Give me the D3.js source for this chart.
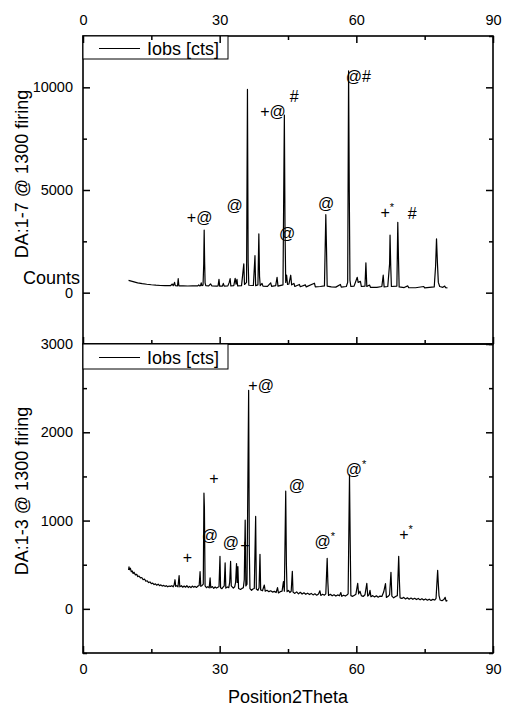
<!DOCTYPE html>
<html>
<head>
<meta charset="utf-8">
<script src="https://cdn.jsdelivr.net/npm/d3@7"></script>
<style>
  body { margin: 0; background: #fff; }
  text { font-family: "Liberation Sans", Arial, sans-serif; fill: #000; }
</style>
</head>
<body>
<div id="chart"></div>
<script>
// x axis (2theta)
const xTicks = [0, 30, 60, 90]
const xMinor = [15, 45, 75]

// upper pattern: DA:1-7 @ 1300 firing  [2theta, counts]
const topTicks = [0, 5000, 10000]
const topMinor = [-2500, 2500, 7500, 12500]
const topPattern = [
  [10,600],[11,540],[12,480],[13,440],[14,410],[15,385],[16,365],[17,350],[18,345],[19.2,340],[19.6,420],[19.8,340],
  [20.1,500],[20.25,340],[20.75,335],[20.9,680],[21.05,335],[22,330],[23,325],[24,330],[25.2,330],[25.4,380],[25.6,330],
  [25.8,340],[25.95,480],[26.1,340],[26.35,360],[26.5,1400],[26.6,3050],[26.7,1500],[26.8,480],[26.95,340],[27.6,330],
  [28.0,430],[28.3,325],[29.4,320],[29.65,330],[29.85,650],[30.0,320],[30.6,320],[30.8,450],[31.0,320],[31.8,330],
  [32.1,500],[32.3,680],[32.45,330],[33.1,340],[33.4,700],[33.6,420],[33.8,650],[33.95,330],[34.8,340],[35.3,1400],
  [35.45,400],[35.9,500],[36.1,9900],[36.25,1500],[36.4,360],[37.4,350],[37.75,1800],[37.9,340],[38.4,380],[38.6,2860],
  [38.75,800],[38.9,340],[39.3,450],[39.5,320],[40.5,310],[41.2,480],[41.4,310],[42.3,340],[42.6,750],[42.8,320],
  [43.9,380],[44.2,8650],[44.35,3000],[44.5,500],[44.7,850],[44.9,400],[45.2,420],[45.6,850],[45.8,380],[46.3,450],
  [46.5,300],[47.5,400],[47.7,290],[48.8,380],[49.0,280],[50.8,460],[51.0,280],[52.1,300],[53.0,330],[53.3,3800],
  [53.45,2200],[53.6,320],[54.5,280],[55.5,270],[56.5,400],[56.7,270],[57.8,300],[58.1,500],[58.3,10800],[58.45,5000],
  [58.6,600],[58.8,300],[59.5,320],[60.2,750],[60.4,500],[60.9,550],[61.1,300],[61.9,320],[62.1,1450],[62.3,300],
  [62.9,370],[63.1,260],[64.5,260],[65.6,300],[65.9,850],[66.1,280],[66.9,300],[67.3,1400],[67.4,2800],[67.55,1300],
  [67.7,300],[68.9,320],[69.1,3430],[69.25,1700],[69.4,280],[70.5,250],[71.3,330],[71.5,240],[73,240],[74.8,300],
  [75,235],[77.1,280],[77.4,1300],[77.6,2620],[77.8,1450],[78.0,500],[78.3,300],[79,260],[79.4,320],[79.6,240],[80,230]
]
// peak marks: [2theta, counts, text, superscript]
const topMarks = [
  [22.8, 3400, "+@", ""], [31.5, 4000, "@", ""], [38.9, 8550, "+@", ""], [45.4, 9300, "#", ""],
  [43.0, 2600, "@", ""], [51.6, 4070, "@", ""], [57.7, 10260, "@#", ""], [65.3, 3640, "+", "*"],
  [71.3, 3590, "#", ""]
]

// lower pattern: DA:1-3 @ 1300 firing
const botTicks = [0, 1000, 2000, 3000]
const botMinor = [-500, 500, 1500, 2500]
const botPattern = [
  [10,440],[10.1,475],[10.2,445],[10.4,460],[10.6,420],[10.8,430],[11,400],[11.2,415],[11.5,385],[11.8,392],[12,365],
  [12.3,372],[12.6,350],[12.9,355],[13.2,330],[13.5,338],[13.8,312],[14.1,318],[14.4,298],[14.7,305],[15,285],[15.3,292],
  [15.6,275],[15.9,283],[16.2,268],[16.5,280],[16.8,262],[17.1,272],[17.4,258],[17.7,266],[18,255],[18.3,262],[18.6,250],
  [18.9,258],[19.2,255],[19.5,262],[19.8,250],[20.0,270],[20.2,330],[20.35,255],[20.6,262],[20.85,250],[21.1,376],
  [21.25,250],[21.6,262],[21.9,245],[22.2,258],[22.5,245],[22.8,262],[23.1,242],[23.4,255],[23.7,240],[24.0,258],
  [24.3,245],[24.6,255],[24.9,242],[25.2,258],[25.5,265],[25.7,421],[25.85,255],[26.1,262],[26.4,280],[26.55,1311],
  [26.65,1150],[26.8,260],[27.1,240],[27.4,252],[27.7,238],[27.9,350],[28.05,240],[28.4,252],[28.7,232],[29.0,248],
  [29.3,235],[29.6,245],[29.85,250],[30.07,595],[30.2,240],[30.5,228],[30.75,245],[31.0,260],[31.2,520],[31.35,235],
  [31.7,248],[32.0,240],[32.2,300],[32.4,537],[32.55,260],[33.0,235],[33.3,250],[33.5,300],[33.7,514],[33.85,300],
  [34.0,480],[34.15,230],[34.6,220],[34.9,232],[35.2,240],[35.4,330],[35.6,1005],[35.75,260],[36.0,280],[36.36,2475],
  [36.5,700],[36.65,230],[37.0,210],[37.3,225],[37.6,230],[37.9,1047],[38.05,225],[38.4,210],[38.65,240],[38.85,618],
  [39.0,215],[39.4,205],[39.8,270],[40.0,200],[40.4,210],[40.8,195],[41.2,205],[41.6,190],[42.0,198],[42.4,185],
  [42.7,240],[42.9,180],[43.3,195],[43.7,200],[44.0,310],[44.2,200],[44.5,1333],[44.65,500],[44.8,195],[45.1,210],
  [45.4,185],[45.7,200],[45.95,426],[46.1,190],[46.5,175],[46.9,192],[47.3,170],[47.7,188],[48.1,168],[48.5,182],
  [48.9,165],[49.3,178],[49.7,162],[50.1,175],[50.5,158],[50.9,170],[51.3,155],[51.7,168],[52.0,205],[52.2,152],
  [52.6,165],[53.0,155],[53.3,170],[53.6,573],[53.75,300],[53.9,152],[54.3,165],[54.7,148],[55.1,160],[55.5,145],
  [55.9,158],[56.3,148],[56.6,185],[56.8,142],[57.2,155],[57.6,145],[58.0,160],[58.2,170],[58.5,1518],[58.65,780],
  [58.8,150],[59.2,142],[59.6,155],[59.9,165],[60.3,290],[60.5,170],[60.8,200],[61.1,150],[61.5,140],[61.9,160],
  [62.3,290],[62.5,145],[62.8,160],[63.0,210],[63.2,138],[63.6,150],[64.0,135],[64.4,148],[64.8,132],[65.2,145],
  [65.6,140],[66.0,190],[66.4,286],[66.6,130],[67.0,142],[67.3,160],[67.6,414],[67.8,145],[68.2,125],[68.6,140],
  [69.0,150],[69.3,595],[69.45,320],[69.6,125],[70.0,118],[70.4,130],[70.8,112],[71.2,125],[71.6,110],[72.0,122],
  [72.4,108],[72.8,120],[73.2,105],[73.6,118],[74.0,102],[74.4,115],[74.8,100],[75.2,112],[75.6,98],[76.0,110],
  [76.4,96],[76.8,108],[77.2,100],[77.5,120],[77.85,437],[78.0,280],[78.15,150],[78.4,100],[78.8,92],[79.2,105],
  [79.5,130],[79.7,88],[80,95]
]
const botMarks = [
  [21.9, 525, "+", ""], [27.7, 1410, "+", ""], [26.05, 770, "@", ""], [30.7, 685, "@", ""], [34.5, 650, "+", ""],
  [36.3, 2470, "+@", ""], [45.15, 1335, "@", ""], [50.8, 700, "@", "*"], [57.7, 1516, "@", "*"], [69.4, 780, "+", "*"]
]

const width = 505, height = 707
const left = 83, right = 493

const svg = d3.select("#chart").append("svg")
    .attr("width", width)
    .attr("height", height)

svg.append("rect").attr("width", width).attr("height", height).attr("fill", "#fff")

const x = d3.scaleLinear().domain([0, 90]).range([left, right])

const panels = [
  {top: 36, bottom: 344, domain: [-2500, 12500], ticks: topTicks, minor: topMinor, data: topPattern,
   marks: topMarks, title: "DA:1-7 @ 1300 firing", titleY: 174, legendH: 23},
  {top: 344, bottom: 653, domain: [-500, 3000], ticks: botTicks, minor: botMinor, data: botPattern,
   marks: botMarks, title: "DA:1-3 @ 1300 firing", titleY: 491, legendH: 25}
]

function styleAxis(g) {
  g.select(".domain").remove()
  g.selectAll("line").attr("stroke", "#000").attr("stroke-width", 1.5)
  g.selectAll("text").style("font-size", "14.5px").attr("fill", "#000")
}

panels.forEach((p, i) => {
  const y = d3.scaleLinear().domain(p.domain).range([p.bottom, p.top])

  // data line
  svg.append("path")
    .datum(p.data)
    .attr("fill", "none")
    .attr("stroke", "#000")
    .attr("stroke-width", 1.2)
    .attr("stroke-linejoin", "round")
    .attr("d", d3.line().x(d => x(d[0])).y(d => y(d[1])))

  // y axes, ticks pointing in
  svg.append("g").attr("transform", `translate(${left},0)`)
    .call(d3.axisLeft(y).tickValues(p.ticks).tickSize(-7).tickPadding(10).tickFormat(d3.format("d")))
    .call(styleAxis)
  svg.append("g").attr("transform", `translate(${left},0)`)
    .call(d3.axisLeft(y).tickValues(p.minor).tickSize(-4).tickFormat(""))
    .call(styleAxis)
  svg.append("g").attr("transform", `translate(${right},0)`)
    .call(d3.axisRight(y).tickValues(p.ticks).tickSize(-7).tickFormat(""))
    .call(styleAxis)
  svg.append("g").attr("transform", `translate(${right},0)`)
    .call(d3.axisRight(y).tickValues(p.minor).tickSize(-4).tickFormat(""))
    .call(styleAxis)

  // x ticks on the bottom edge of each panel (inward)
  svg.append("g").attr("transform", `translate(0,${p.bottom})`)
    .call(d3.axisBottom(x).tickValues(xTicks).tickSize(-7).tickPadding(11)
      .tickFormat(i == 1 ? d3.format("d") : ""))
    .call(styleAxis)
  svg.append("g").attr("transform", `translate(0,${p.bottom})`)
    .call(d3.axisBottom(x).tickValues(xMinor).tickSize(-4).tickFormat(""))
    .call(styleAxis)

  // frame
  svg.append("rect")
    .attr("x", left).attr("y", p.top)
    .attr("width", right - left).attr("height", p.bottom - p.top)
    .attr("fill", "none").attr("stroke", "#000").attr("stroke-width", 1.6)

  // legend
  const lg = svg.append("g")
  lg.append("rect")
    .attr("x", left).attr("y", p.top)
    .attr("width", 145).attr("height", p.legendH)
    .attr("fill", "#fff").attr("stroke", "#000").attr("stroke-width", 1)
  lg.append("line")
    .attr("x1", 99).attr("x2", 140)
    .attr("y1", p.top + p.legendH / 2 + 1).attr("y2", p.top + p.legendH / 2 + 1)
    .attr("stroke", "#000").attr("stroke-width", 1)
  lg.append("text")
    .attr("x", 147).attr("y", p.top + p.legendH / 2 + 7)
    .style("font-size", "18px")
    .text("Iobs [cts]")

  // peak marks
  p.marks.forEach(m => {
    const t = svg.append("text")
      .attr("x", x(m[0])).attr("y", y(m[1]))
      .style("font-size", "16px")
      .text(m[2])
    if (m[3]) {
      t.append("tspan").attr("dy", -7).style("font-size", "11px").text(m[3])
    }
  })

  // panel title
  svg.append("text")
    .attr("transform", `translate(28,${p.titleY}) rotate(-90)`)
    .attr("text-anchor", "middle")
    .style("font-size", "18px")
    .text(p.title)
})

// top axis
svg.append("g").attr("transform", "translate(0,36)")
  .call(d3.axisTop(x).tickValues(xTicks).tickSize(-7).tickPadding(11).tickFormat(d3.format("d")))
  .call(styleAxis)
svg.append("g").attr("transform", "translate(0,36)")
  .call(d3.axisTop(x).tickValues(xMinor).tickSize(-4).tickFormat(""))
  .call(styleAxis)

// axis titles
svg.append("text")
  .attr("x", 80).attr("y", 284)
  .attr("text-anchor", "end")
  .style("font-size", "18px")
  .text("Counts")

svg.append("text")
  .attr("x", (left + right) / 2).attr("y", 703)
  .attr("text-anchor", "middle")
  .style("font-size", "18px")
  .text("Position2Theta")
</script>
</body>
</html>
